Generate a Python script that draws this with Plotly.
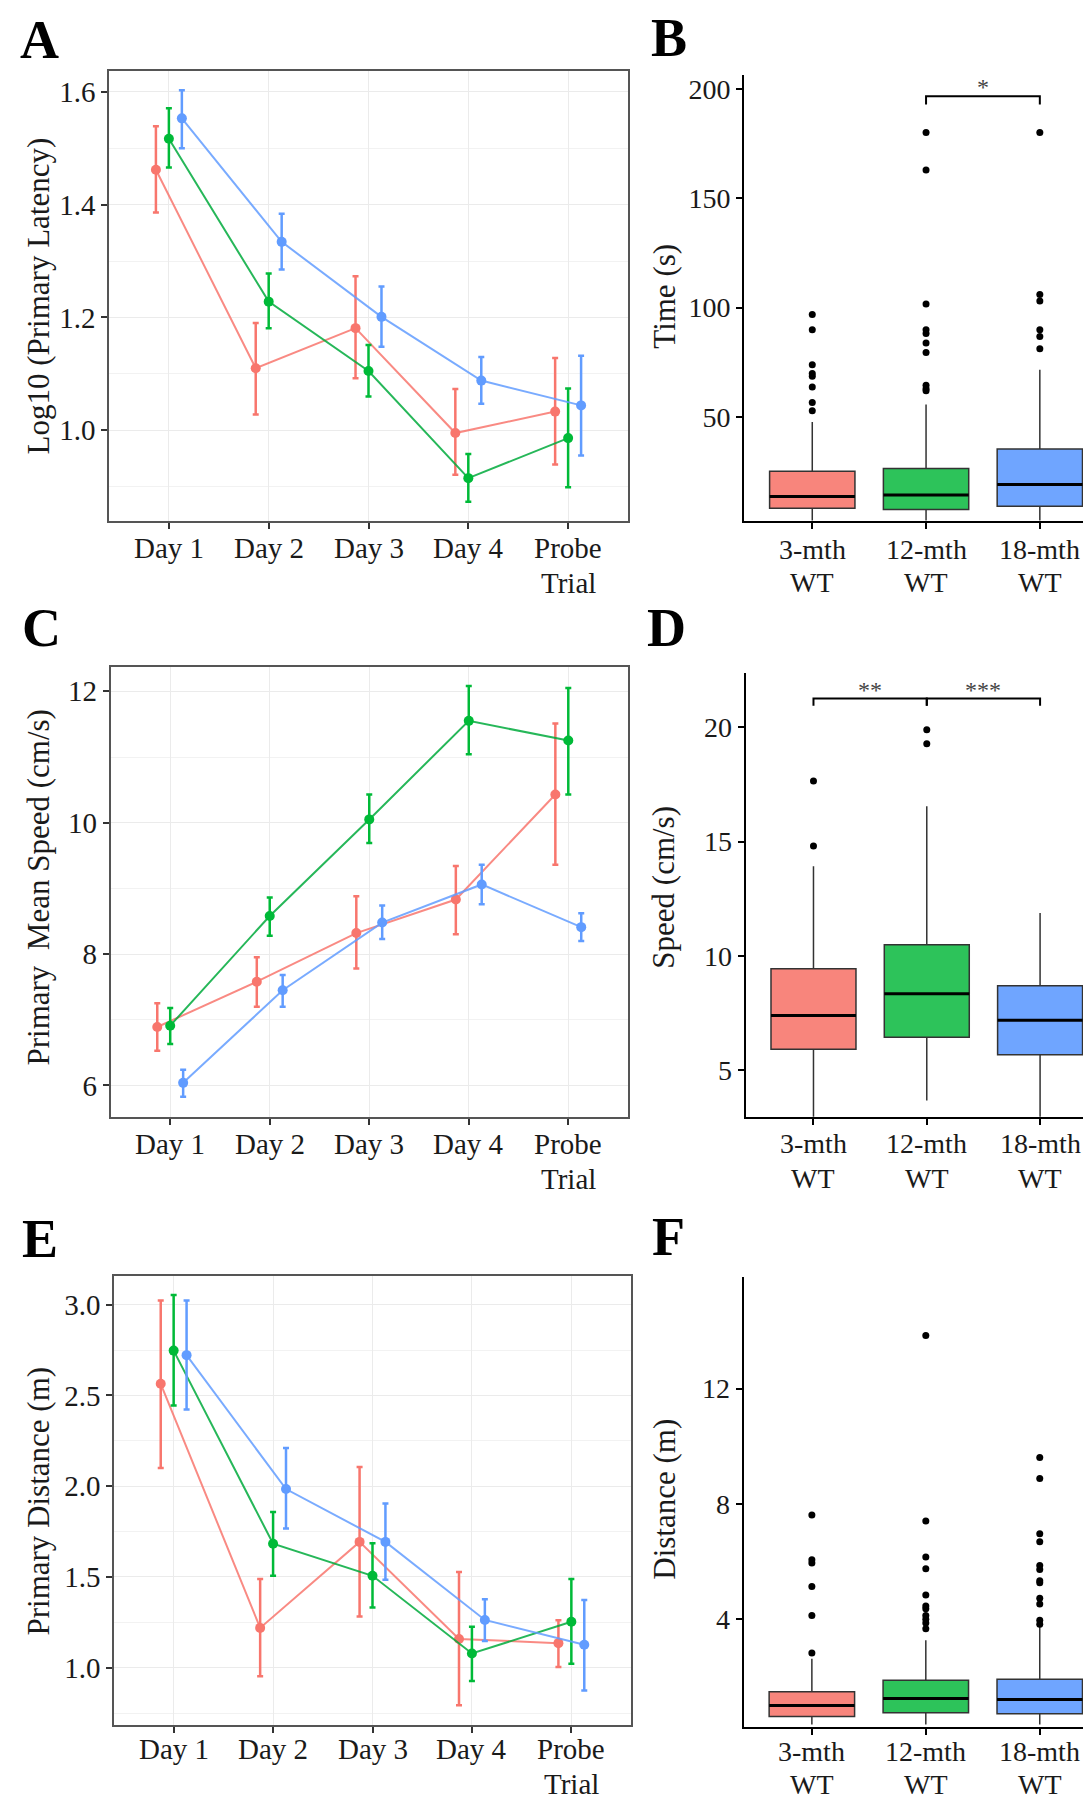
import plotly.graph_objects as go

W, H = 1091, 1800
FONT = "Liberation Serif, Times New Roman, serif"

# ---- data ---------------------------------------------------------------
days = ["Day 1", "Day 2", "Day 3", "Day 4", "Probe\nTrial"]
groups = ["3-mth WT", "12-mth WT", "18-mth WT"]
group_labels = ["3-mth\nWT", "12-mth\nWT", "18-mth\nWT"]
colors = ["#F8766D", "#00BA38", "#619CFF"]
box_fills = ["#F8857C", "#2DC35A", "#6FA5FF"]
line_colors = ["rgba(248,118,109,0.85)", "rgba(0,170,60,0.85)", "rgba(97,156,255,0.85)"]
dodge = [-0.13, 0.0, 0.13]

# A: Log10 (Primary Latency), mean and error bar ends per group
lat_mean = [[1.462, 1.110, 1.181, 0.995, 1.033],
            [1.517, 1.228, 1.105, 0.915, 0.986],
            [1.553, 1.334, 1.201, 1.088, 1.044]]
lat_upper = [[1.539, 1.190, 1.273, 1.073, 1.128],
             [1.571, 1.278, 1.151, 0.958, 1.074],
             [1.603, 1.384, 1.255, 1.130, 1.132]]
lat_lower = [[1.386, 1.028, 1.092, 0.921, 0.939],
             [1.466, 1.181, 1.060, 0.873, 0.899],
             [1.500, 1.285, 1.148, 1.047, 0.955]]

# C: Primary Mean Speed (cm/s)
spd_mean = [[6.89, 7.58, 8.32, 8.83, 10.43],
            [6.91, 8.58, 10.05, 11.55, 11.25],
            [6.04, 7.45, 8.48, 9.06, 8.41]]
spd_upper = [[7.25, 7.95, 8.88, 9.34, 11.51],
             [7.18, 8.86, 10.43, 12.08, 12.05],
             [6.24, 7.68, 8.74, 9.36, 8.62]]
spd_lower = [[6.53, 7.20, 7.78, 8.30, 9.36],
             [6.63, 8.28, 9.69, 11.04, 10.43],
             [5.83, 7.20, 8.23, 8.76, 8.20]]

# E: Primary Distance (m)
dst_mean = [[2.564, 1.219, 1.693, 1.158, 1.135],
            [2.747, 1.683, 1.506, 1.078, 1.253],
            [2.722, 1.984, 1.693, 1.263, 1.126]]
dst_upper = [[3.023, 1.489, 2.106, 1.527, 1.261],
             [3.053, 1.858, 1.685, 1.226, 1.489],
             [3.023, 2.210, 1.904, 1.377, 1.373]]
dst_lower = [[2.100, 0.952, 1.282, 0.793, 1.004],
             [2.444, 1.506, 1.331, 0.926, 1.021],
             [2.423, 1.767, 1.485, 1.147, 0.874]]

# B: Time (s) box stats
time_lo = [2.5, 2.5, 2.5]
time_q1 = [8.1, 7.6, 9.0]
time_med = [13.5, 14.2, 19.0]
time_q3 = [25.1, 26.3, 35.3]
time_hi = [47.6, 55.6, 71.5]
time_out = [[96.9, 89.9, 73.8, 69.8, 68.6, 63.6, 56.6, 52.8],
            [180.2, 163.0, 101.7, 89.9, 88.2, 83.8, 79.4, 64.5, 62.8, 61.9],
            [180.2, 106.0, 103.0, 89.9, 86.8, 81.2]]

# D: Speed (cm/s) box stats
speed_lo = [2.95, 3.66, 2.95]
speed_q1 = [5.91, 6.43, 5.67]
speed_med = [7.38, 8.34, 7.18]
speed_q3 = [9.43, 10.48, 8.69]
speed_hi = [13.92, 16.55, 11.87]
speed_out = [[17.65, 14.80], [19.90, 19.28], []]

# F: Distance (m) box stats
dist_lo = [0.35, 0.35, 0.35]
dist_q1 = [0.62, 0.75, 0.72]
dist_med = [1.01, 1.25, 1.21]
dist_q3 = [1.48, 1.88, 1.92]
dist_hi = [2.63, 3.27, 3.75]
dist_out = [[7.61, 6.06, 5.95, 5.13, 4.13, 2.83],
            [13.84, 7.41, 6.16, 5.75, 4.84, 4.46, 4.36, 4.13, 4.00, 3.87, 3.67],
            [9.61, 8.88, 6.96, 6.69, 5.86, 5.72, 5.33, 5.26, 4.73, 4.53, 3.96, 3.82]]

# significance brackets: (from group, to group, bar height, leg end, label)
time_sig = [(2, 3, 196.8, 193.0, "*")]
speed_sig = [(1, 2, 21.26, 20.95, "**"), (2, 3, 21.26, 20.95, "***")]

# ---- helpers -------------------------------------------------------------
def hdom(a, b):
    return [a / W, b / W]


def vdom(top, bottom):
    return [1 - bottom / H, 1 - top / H]


fig = go.Figure()


def line_panel(n, means, uppers, lowers):
    xa, ya = f"x{n}", f"y{n}"
    for g in range(3):
        xs = [i + 1 + dodge[g] for i in range(len(days))]
        fig.add_trace(go.Scatter(
            x=xs, y=means[g], xaxis=xa, yaxis=ya, mode="lines+markers",
            line=dict(color=line_colors[g], width=2),
            marker=dict(color=colors[g], size=10),
            error_y=dict(type="data", symmetric=False,
                         array=[u - m for u, m in zip(uppers[g], means[g])],
                         arrayminus=[m - l for m, l in zip(means[g], lowers[g])],
                         color=colors[g], thickness=2.5, width=3),
            name=groups[g], showlegend=False))


def box_panel(n, lo, q1, med, q3, hi, out):
    xa, ya = f"x{n}", f"y{n}"
    for g in range(3):
        fig.add_trace(go.Box(
            x=[g + 1], lowerfence=[lo[g]], q1=[q1[g]], median=[med[g]],
            q3=[q3[g]], upperfence=[hi[g]], width=0.75, whiskerwidth=0,
            fillcolor=box_fills[g], line=dict(color="#333333", width=1.5),
            boxpoints=False, xaxis=xa, yaxis=ya, showlegend=False,
            name=groups[g]))
        fig.add_trace(go.Scatter(
            x=[g + 0.625, g + 1.375], y=[med[g], med[g]], xaxis=xa, yaxis=ya,
            mode="lines", line=dict(color="black", width=3), showlegend=False))
        if out[g]:
            fig.add_trace(go.Scatter(
                x=[g + 1] * len(out[g]), y=out[g], xaxis=xa, yaxis=ya,
                mode="markers", marker=dict(color="black", size=7),
                showlegend=False))


def brackets(n, sig):
    for a, b, top, leg, label in sig:
        fig.add_trace(go.Scatter(
            x=[a, a, b, b], y=[leg, top, top, leg], xaxis=f"x{n}", yaxis=f"y{n}",
            mode="lines", line=dict(color="black", width=2), showlegend=False))
        fig.add_annotation(x=(a + b) / 2, y=top, xref=f"x{n}", yref=f"y{n}",
                           text=label, showarrow=False, yanchor="bottom", yshift=-6,
                           font=dict(family=FONT, size=24, color="#444444"))


def xlabels(n, labels, bottom, size, first, second):
    # category labels under the axis, one annotation per text line
    for i, lab in enumerate(labels):
        for k, part in enumerate(lab.split("\n")):
            py = bottom + (first if k == 0 else second)
            fig.add_annotation(x=i + 1, y=1 - py / H, xref=f"x{n}", yref="paper",
                               text=part, showarrow=False, xanchor="center",
                               yanchor="middle",
                               font=dict(family=FONT, size=size, color="#1a1a1a"))


line_panel(1, lat_mean, lat_upper, lat_lower)
box_panel(2, time_lo, time_q1, time_med, time_q3, time_hi, time_out)
brackets(2, time_sig)
line_panel(3, spd_mean, spd_upper, spd_lower)
box_panel(4, speed_lo, speed_q1, speed_med, speed_q3, speed_hi, speed_out)
brackets(4, speed_sig)
line_panel(5, dst_mean, dst_upper, dst_lower)
box_panel(6, dist_lo, dist_q1, dist_med, dist_q3, dist_hi, dist_out)

xlabels(1, days, 513, 29, 27, 62)
xlabels(2, group_labels, 513, 28, 28, 61)
xlabels(3, days, 1109, 29, 27, 62)
xlabels(4, group_labels, 1109, 28, 26, 61)
xlabels(5, days, 1717, 29, 24, 59)
xlabels(6, group_labels, 1719, 28, 24, 57)

tickfont_l = dict(family=FONT, size=29, color="#1a1a1a")
tickfont_r = dict(family=FONT, size=28, color="#1a1a1a")
grid = "#EBEBEB"


def left_x(dom, anchor):
    return dict(domain=dom, anchor=anchor, range=[0.4, 5.6],
                tickvals=[1, 2, 3, 4, 5], showticklabels=False,
                showgrid=True, gridcolor=grid, gridwidth=1.3, zeroline=False,
                showline=True, mirror=True, linecolor="#555555", linewidth=1.5,
                ticks="outside", ticklen=6, tickwidth=1.5, tickcolor="#333333")


def left_y(dom, anchor, rng, vals, text, minor):
    return dict(domain=dom, anchor=anchor, range=rng, tickvals=vals, ticktext=text,
                tickfont=tickfont_l, showgrid=True, gridcolor=grid, gridwidth=1.3,
                minor=dict(showgrid=True, gridcolor="#F2F2F2", gridwidth=1, dtick=minor,
                           tick0=vals[0]),
                zeroline=False, showline=True, mirror=True, linecolor="#555555",
                linewidth=1.5, ticks="outside", ticklen=6, tickwidth=1.5,
                tickcolor="#333333")


def right_x(dom, anchor):
    return dict(domain=dom, anchor=anchor, range=[0.4, 3.52],
                tickvals=[1, 2, 3], showticklabels=False,
                showgrid=False, zeroline=False, showline=True, linecolor="black",
                linewidth=2, ticks="outside", ticklen=6, tickwidth=1.5,
                tickcolor="black")


def right_y(dom, anchor, rng, vals):
    return dict(domain=dom, anchor=anchor, range=rng, tickvals=vals,
                ticktext=[str(v) for v in vals], tickfont=tickfont_r,
                showgrid=False, zeroline=False, showline=True, linecolor="black",
                linewidth=2, ticks="outside", ticklen=6, tickwidth=1.5,
                tickcolor="black")


fig.update_layout(
    width=W, height=H, margin=dict(l=0, r=0, t=0, b=0),
    paper_bgcolor="white", plot_bgcolor="white", showlegend=False,
    font=dict(family=FONT, color="#1a1a1a"),
    xaxis=left_x(hdom(101, 620), "y"),
    yaxis=left_y(vdom(63, 513), "x", [0.839, 1.637], [1.0, 1.2, 1.4, 1.6],
                 ["1.0", "1.2", "1.4", "1.6"], 0.1),
    xaxis2=right_x(hdom(736, 1091), "y2"),
    yaxis2=right_y(vdom(67, 513), "x2", [2.3, 206.5], [50, 100, 150, 200]),
    xaxis3=left_x(hdom(102.5, 620), "y3"),
    yaxis3=left_y(vdom(659, 1109), "x3", [5.52, 12.37], [6, 8, 10, 12],
                  ["6", "8", "10", "12"], 1),
    xaxis4=right_x(hdom(737.5, 1091), "y4"),
    yaxis4=right_y(vdom(665, 1109), "x4", [2.94, 22.38], [5, 10, 15, 20]),
    xaxis5=left_x(hdom(106, 623), "y5"),
    yaxis5=left_y(vdom(1268, 1717), "x5", [0.684, 3.158], [1.0, 1.5, 2.0, 2.5, 3.0],
                  ["1.0", "1.5", "2.0", "2.5", "3.0"], 0.25),
    xaxis6=right_x(hdom(735.5, 1091), "y6"),
    yaxis6=right_y(vdom(1269, 1719), "x6", [0.26, 15.87], [4, 8, 12]),
)

# y axis titles
titles = [("Log10 (Primary Latency)", 29.5, 288),
          ("Time (s)", 655.7, 288),
          ("Primary\u00a0 Mean Speed (cm/s)", 29.5, 880),
          ("Speed (cm/s)", 655.7, 879),
          ("Primary Distance (m)", 29.5, 1493),
          ("Distance (m)", 655.7, 1491)]
for text, px, py in titles:
    fig.add_annotation(x=px / W, y=1 - py / H, xref="paper", yref="paper",
                       text=text, textangle=-90, showarrow=False,
                       xanchor="center", yanchor="middle",
                       font=dict(family=FONT, size=31, color="#1a1a1a"))

# panel letters
letters = [("A", 10, 32), ("B", 641, 30), ("C", 12, 620),
           ("D", 637, 620), ("E", 12, 1231), ("F", 642, 1229)]
for text, px, py in letters:
    fig.add_annotation(x=px / W, y=1 - py / H, xref="paper", yref="paper",
                       text=f"<b>{text}</b>", showarrow=False,
                       xanchor="left", yanchor="middle",
                       font=dict(family=FONT, size=54, color="black"))

fig.write_html("out.html")
